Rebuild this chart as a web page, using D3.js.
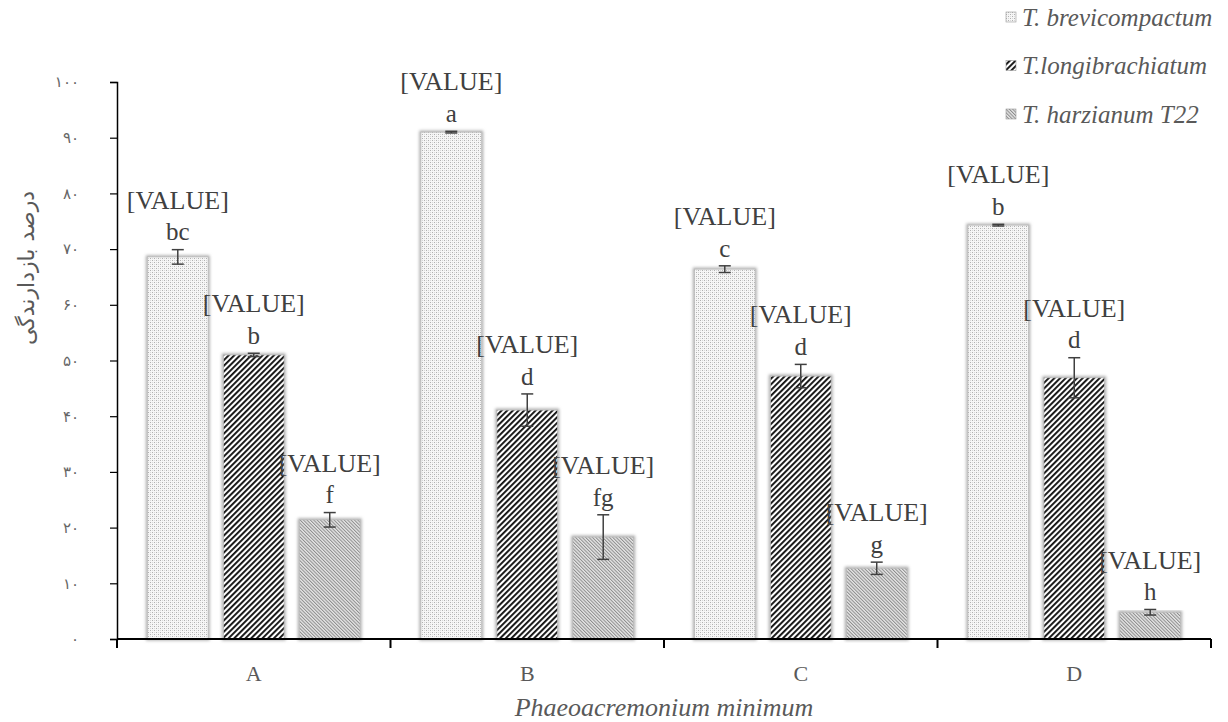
<!DOCTYPE html>
<html><head><meta charset="utf-8">
<script src="https://cdn.jsdelivr.net/npm/d3@7"></script>
<style>body{margin:0;background:#fff}svg{display:block}</style>
</head><body><svg id="c" width="1228" height="722"></svg>
<script>
const categories = ["A","B","C","D"];
const seriesNames = ["T. brevicompactum","T.longibrachiatum","T. harzianum T22"];
const brevicompactum = [68.6, 91.0, 66.4, 74.3];
const longibrachiatum = [51.0, 41.1, 47.2, 46.9];
const harzianum = [21.4, 18.3, 12.7, 4.8];
const errBrevi = [1.3, 0.15, 0.6, 0.15];
const errLongi = [0.3, 2.9, 2.1, 3.6];
const errHarz = [1.3, 4.0, 1.1, 0.5];
const lettersBrevi = ["bc","a","c","b"];
const lettersLongi = ["b","d","d","d"];
const lettersHarz = ["f","fg","g","h"];
const yTicks = [0,10,20,30,40,50,60,70,80,90,100];

const values = [brevicompactum, longibrachiatum, harzianum];
const errs = [errBrevi, errLongi, errHarz];
const letters = [lettersBrevi, lettersLongi, lettersHarz];
const fills = ["url(#pDots)","url(#pWide)","url(#pFine)"];
const SERIF = "'Liberation Serif','Times New Roman',serif";

const svg = d3.select("#c");
const defs = svg.append("defs");
const p1 = defs.append("pattern").attr("id","pDots").attr("patternUnits","userSpaceOnUse").attr("width",4).attr("height",4);
p1.append("rect").attr("width",4).attr("height",4).attr("fill","#f6f6f6");
p1.append("rect").attr("x",0).attr("y",0).attr("width",1).attr("height",1).attr("fill","#b0b0b0");
p1.append("rect").attr("x",2).attr("y",2).attr("width",1).attr("height",1).attr("fill","#b0b0b0");
p1.append("rect").attr("x",2).attr("y",0).attr("width",1).attr("height",1).attr("fill","#d8d8d8");
p1.append("rect").attr("x",0).attr("y",2).attr("width",1).attr("height",1).attr("fill","#d8d8d8");
const p2 = defs.append("pattern").attr("id","pWide").attr("patternUnits","userSpaceOnUse").attr("width",4).attr("height",4).attr("patternTransform","rotate(45)");
p2.append("rect").attr("width",4).attr("height",4).attr("fill","#ffffff");
p2.append("rect").attr("x",0).attr("y",0).attr("width",1.9).attr("height",4).attr("fill","#111");
const p3 = defs.append("pattern").attr("id","pFine").attr("patternUnits","userSpaceOnUse").attr("width",2.4).attr("height",2.4).attr("patternTransform","rotate(-45)");
p3.append("rect").attr("width",2.4).attr("height",2.4).attr("fill","#e6e6e6");
p3.append("rect").attr("x",0).attr("y",0).attr("width",1.0).attr("height",2.4).attr("fill","#8c8c8c");
const blur = defs.append("filter").attr("id","soft").attr("x","-20%").attr("y","-5%").attr("width","140%").attr("height","110%");
blur.append("feGaussianBlur").attr("stdDeviation",1.5);

const x0 = d3.scaleBand().domain(categories).range([117,1211]).padding(0);
const x1 = d3.scaleBand().domain(d3.range(3)).range([0,x0.bandwidth()]).paddingInner(0.2).paddingOuter(0.4);
const y = d3.scaleLinear().domain([0,100]).range([639,82]);

const fa = "۰۱۲۳۴۵۶۷۸۹";
const toFa = n => String(n).replace(/\d/g, d => fa[d]);

const g = svg.append("g");
values.forEach((vals, s) => {
  categories.forEach((c, i) => {
    const bx = x0(c) + x1(s), bw = x1.bandwidth();
    g.append("rect").attr("x",bx).attr("y",y(vals[i])).attr("width",bw).attr("height",y(0)-y(vals[i]))
      .attr("fill","none").attr("stroke","#aaa").attr("stroke-width",3).attr("filter","url(#soft)");
    g.append("rect").attr("x",bx).attr("y",y(vals[i])).attr("width",bw).attr("height",y(0)-y(vals[i]))
      .attr("fill",fills[s]).attr("stroke","#bbb").attr("stroke-width",0.8);
    const cx = bx + bw/2;
    const top = y(vals[i] + errs[s][i]), bot = y(Math.max(0, vals[i] - errs[s][i]));
    g.append("line").attr("x1",cx).attr("x2",cx).attr("y1",top).attr("y2",bot).attr("stroke","#404040").attr("stroke-width",1.5);
    [top,bot].forEach(yy => g.append("line").attr("x1",cx-6).attr("x2",cx+6).attr("y1",yy).attr("y2",yy).attr("stroke","#404040").attr("stroke-width",1.5));
    g.append("text").attr("x",cx).attr("y",top-18).attr("dy","0.35em").attr("text-anchor","middle")
      .attr("font-family",SERIF).attr("font-size",25).attr("fill","#404040").text(letters[s][i]);
    g.append("text").attr("x",cx).attr("y",top-50).attr("dy","0.35em").attr("text-anchor","middle")
      .attr("font-family",SERIF).attr("font-size",26).attr("fill","#404040").text("[VALUE]");
  });
});

const ya = svg.append("g").attr("transform","translate(117,0)")
  .call(d3.axisLeft(y).tickValues(yTicks).tickSize(7).tickPadding(31).tickFormat(toFa));
ya.select(".domain").attr("stroke","#000").attr("stroke-width",1.5);
ya.selectAll(".tick line").attr("stroke","#000").attr("stroke-width",1.2);
ya.selectAll("text").attr("font-family","'DejaVu Sans'").attr("font-size",15).attr("fill","#666");

const xa = svg.append("g").attr("transform","translate(0,639)");
xa.append("line").attr("x1",117).attr("x2",1211).attr("stroke","#000").attr("stroke-width",2);
const bounds = [117].concat(categories.map(c => x0(c) + x0.bandwidth()));
bounds.forEach(b => xa.append("line").attr("x1",b).attr("x2",b).attr("y1",0).attr("y2",9).attr("stroke","#000").attr("stroke-width",2));
categories.forEach(c => xa.append("text").attr("x",x0(c)+x0.bandwidth()/2).attr("y",34).attr("dy","0.35em")
  .attr("text-anchor","middle").attr("font-family",SERIF).attr("font-size",22).attr("fill","#595959").text(c));

svg.append("text").attr("x",664).attr("y",707).attr("dy","0.35em").attr("text-anchor","middle")
  .attr("font-family",SERIF).attr("font-style","italic").attr("font-size",26).attr("fill","#595959")
  .text("Phaeoacremonium minimum");

svg.append("text").attr("transform","translate(26,268) rotate(-90)").attr("dy","0.35em").attr("text-anchor","middle")
  .attr("font-family","'DejaVu Sans'").attr("font-size",22).attr("fill","#595959").text("درصد بازدارندگی");

const lg = svg.append("g");
seriesNames.forEach((n, i) => {
  const ly = 17 + i*48.5;
  lg.append("rect").attr("x",1006).attr("y",ly-5).attr("width",10).attr("height",10).attr("fill",fills[i]).attr("stroke","#999").attr("stroke-width",0.6);
  lg.append("text").attr("x",1022).attr("y",ly).attr("dy","0.35em").attr("font-family",SERIF)
    .attr("font-style","italic").attr("font-size",25).attr("fill","#595959").text(n);
});
</script></body></html>
